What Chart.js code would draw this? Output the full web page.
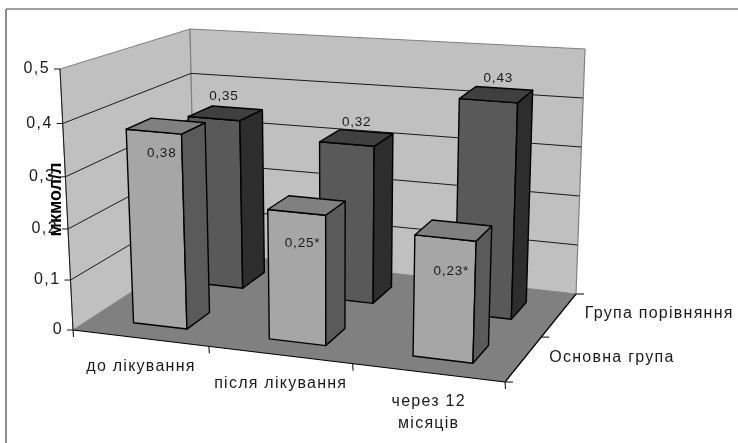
<!DOCTYPE html>
<html>
<head>
<meta charset="utf-8">
<style>
  html, body { margin: 0; padding: 0; background: #fff; }
  #wrap { width: 738px; height: 443px; position: relative; overflow: hidden; }
</style>
<script src="https://cdn.jsdelivr.net/npm/chart.js@4/dist/chart.umd.min.js"></script>
</head>
<body>
<div id="wrap"><canvas id="grafica" width="738" height="443"></canvas></div>
<script>
/* ── Datos ── */
const categorias = [["до лікування"], ["після лікування"], ["через 12", "місяців"]];
const series     = ["Основна група", "Група порівняння"];
const osnovna    = [0.38, 0.25, 0.23];
const porivnyannya = [0.35, 0.32, 0.43];
const etiquetasOsnovna = ["0,38", "0,25*", "0,23*"];
const etiquetasPorivn  = ["0,35", "0,32", "0,43"];
const ticksY = ["0", "0,1", "0,2", "0,3", "0,4", "0,5"];
const tituloY = "мкмол/л";

/* ── Caja 3D: esquinas de la proyección [u, profundidad, altura] ── */
const C = {
  "000": [73, 330],  "100": [505, 382], "010": [195, 251], "110": [576, 294],
  "001": [60, 69],   "101": [514, 112], "011": [190, 29],  "111": [585, 49],
};
const fuente = '"Liberation Sans", Arial, sans-serif';
const anchoBarra = 0.40;   // fracción de la categoría
const fondoBarra = 0.40;   // fracción de la serie en profundidad
const corrimiento = 0.006; // las barras no caen justo en el centro de la categoría
const desvioFrente = [[8, 22], [6, 31], [6, 33]];  // etiquetas serie delantera

// perspectiva suave a lo largo de cada eje
function warpU(u) { return u / (u + 1.09 * (1 - u)); }
function warpD(d) { return d / (d + 0.96 * (1 - d)); }
function warpT(t, u, d) {
  const w = 1 + 0.056 * Math.pow((1 - u) * (1 - d), 3);
  return t / (t + w * (1 - t));
}

function proy(u, dd, t) {
  const uu = warpU(u), d = warpD(dd), tt = warpT(t, uu, d);
  const p = [0, 1].map(i =>
    C["000"][i] * (1-uu)*(1-d)*(1-tt) + C["100"][i] * uu*(1-d)*(1-tt) +
    C["010"][i] * (1-uu)*d*(1-tt)     + C["110"][i] * uu*d*(1-tt) +
    C["001"][i] * (1-uu)*(1-d)*tt     + C["101"][i] * uu*(1-d)*tt +
    C["011"][i] * (1-uu)*d*tt         + C["111"][i] * uu*d*tt);
  return p;
}

function poly(ctx, pts, fill, stroke, lw) {
  ctx.beginPath();
  pts.forEach((p, i) => i ? ctx.lineTo(p[0], p[1]) : ctx.moveTo(p[0], p[1]));
  ctx.closePath();
  if (fill) { ctx.fillStyle = fill; ctx.fill(); }
  if (stroke) { ctx.strokeStyle = stroke; ctx.lineWidth = lw; ctx.lineJoin = "round"; ctx.stroke(); }
}

function linea(ctx, a, b, color, lw) {
  ctx.beginPath();
  ctx.moveTo(a[0], a[1]);
  ctx.lineTo(b[0], b[1]);
  ctx.strokeStyle = color;
  ctx.lineWidth = lw;
  ctx.stroke();
}

function texto(ctx, s, x, y, size, align, esp) {
  ctx.font = size + "px " + fuente;
  ctx.textAlign = align;
  ctx.textBaseline = "middle";
  ctx.letterSpacing = esp + "px";
  ctx.fillStyle = "#1a1a1a";
  ctx.fillText(s, x, y);
  ctx.letterSpacing = "0px";
}

/* ── Plugin: paredes, suelo y barras 3D a partir de las escalas ── */
const caja3d = {
  id: "caja3d",
  beforeDraw(chart) {
    const ctx = chart.ctx;
    linea(ctx, [6, 9], [738, 9], "#444", 1.2);
    linea(ctx, [6, 9], [6, 443], "#444", 1.2);
  },
  beforeDatasetsDraw(chart) {
    const ctx = chart.ctx, y = chart.scales.y;
    const a = chart.chartArea;
    const tDe = v => (a.bottom - y.getPixelForValue(v)) / (a.bottom - a.top);

    // paredes
    poly(ctx, [proy(0,0,0), proy(0,1,0), proy(0,1,1), proy(0,0,1)], "#c0c0c0", "#808080", 1);
    poly(ctx, [proy(0,1,0), proy(1,1,0), proy(1,1,1), proy(0,1,1)], "#c0c0c0", "#808080", 1.2);

    // rejilla
    y.ticks.forEach(tk => {
      if (tk.value === 0 || tk.value === y.max) return;
      const t = tDe(tk.value);
      linea(ctx, proy(0,0,t), proy(0,1,t), "#1a1a1a", 1);
      linea(ctx, proy(0,1,t), proy(1,1,t), "#1a1a1a", 1);
    });

    // suelo
    poly(ctx, [proy(0,0,0), proy(1,0,0), proy(1,1,0), proy(0,1,0)], "#808080");

    // ejes
    linea(ctx, proy(0,0,0), proy(0,0,1), "#1a1a1a", 1);
    linea(ctx, proy(0,0,0), proy(1,0,0), "#000", 1.2);
    linea(ctx, proy(1,0,0), proy(1,1,0), "#000", 1.2);

    // marcas y etiquetas del eje Y
    y.ticks.forEach((tk, i) => {
      const p = proy(0,0,tDe(tk.value));
      linea(ctx, [p[0]-6, p[1]], p, "#1a1a1a", 1);
      texto(ctx, ticksY[i], p[0]-10, p[1], 16, "right", 1.4);
    });

    // marcas del eje de categorías
    const x = chart.scales.x;
    const n = categorias.length;
    for (let i = 0; i <= n; i++) {
      const p = proy(i / n, 0, 0);
      linea(ctx, p, [p[0]+0.5, p[1]+7], "#000", 1);
    }
    categorias.forEach((lineas, i) => {
      const u = (x.getPixelForValue(i) - a.left) / (a.right - a.left);
      const p = proy(u, 0, 0);
      lineas.forEach((s, k) => texto(ctx, s, p[0]+1, p[1]+29+k*22, 16, "center", 1.25));
    });

    // eje de profundidad
    const z = chart.scales.z;
    [0, 0.5, 1].forEach(d => {
      const p = proy(1, d, 0);
      linea(ctx, p, [p[0]+8, p[1]], "#000", 1);
    });
    series.forEach((s, i) => {
      const d = (z.getPixelForValue(i) - z.left) / z.width;
      const p = proy(1, d, 0);
      texto(ctx, s, p[0]+26, p[1]-2, 16, "left", 1.25);
    });
  },
  afterDatasetsDraw(chart) {
    const ctx = chart.ctx, x = chart.scales.x, y = chart.scales.y, z = chart.scales.z;
    const a = chart.chartArea;
    const tDe = v => (a.bottom - y.getPixelForValue(v)) / (a.bottom - a.top);
    const anchoCat = 1 / categorias.length, anchoSer = 1 / series.length;
    const centroU = i => (x.getPixelForValue(i) - a.left) / (a.right - a.left) + corrimiento;
    const estilos = [
      { frente: "#a6a6a6", lado: "#5a5a5a", arriba: "#808080" },
      { frente: "#595959", lado: "#2d2d2d", arriba: "#404040" },
    ];

    // primero la serie del fondo
    [1, 0].forEach(ds => {
      const meta = chart.getDatasetMeta(ds), est = estilos[ds];
      const dc = (z.getPixelForValue(ds) - z.left) / z.width;
      const d0 = dc - fondoBarra * anchoSer / 2, d1 = dc + fondoBarra * anchoSer / 2;
      meta.data.forEach((el, i) => {
        const uc = centroU(i);
        const u0 = uc - anchoBarra * anchoCat / 2, u1 = uc + anchoBarra * anchoCat / 2;
        const t = tDe(chart.data.datasets[ds].data[i]);
        poly(ctx, [proy(u0,d0,0), proy(u1,d0,0), proy(u1,d0,t), proy(u0,d0,t)], est.frente, "#000", 1.4);
        poly(ctx, [proy(u1,d0,0), proy(u1,d1,0), proy(u1,d1,t), proy(u1,d0,t)], est.lado, "#000", 1.4);
        poly(ctx, [proy(u0,d0,t), proy(u1,d0,t), proy(u1,d1,t), proy(u0,d1,t)], est.arriba, "#000", 1.4);
      });
    });

    // etiquetas de valor
    [1, 0].forEach(ds => {
      const dc = (z.getPixelForValue(ds) - z.left) / z.width;
      const d0 = dc - fondoBarra * anchoSer / 2;
      const textos = ds ? etiquetasPorivn : etiquetasOsnovna;
      textos.forEach((s, i) => {
        const p = proy(centroU(i), d0, tDe(chart.data.datasets[ds].data[i]));
        const o = ds ? [10, -22] : desvioFrente[i];
        texto(ctx, s, p[0]+o[0], p[1]+o[1], 13.5, "center", 0.8);
      });
    });
  },
};

/* ── Gráfica ── */
new Chart(document.getElementById("grafica").getContext("2d"), {
  type: "bar",
  data: {
    labels: categorias.map(c => c.join(" ")),
    datasets: [
      { label: series[0], data: osnovna, backgroundColor: "rgba(0,0,0,0)" },
      { label: series[1], data: porivnyannya, backgroundColor: "rgba(0,0,0,0)" },
    ],
  },
  plugins: [caja3d],
  options: {
    animation: false,
    responsive: false,
    layout: { padding: { top: 69, bottom: 113, right: 233, left: 0 } },
    plugins: { legend: { display: false }, tooltip: { enabled: false } },
    scales: {
      x: { display: false, offset: true },
      z: { type: "category", axis: "x", labels: series, display: false, offset: true },
      y: {
        min: 0, max: 0.5,
        afterFit: s => { s.width = 73; },
        ticks: { display: false, stepSize: 0.1 },
        grid: { display: false },
        border: { display: false },
        title: {
          display: true,
          text: tituloY,
          color: "#000",
          padding: { top: 45, bottom: 0 },
          font: { family: fuente, size: 18, weight: "bold" },
        },
      },
    },
  },
});
</script>
</body>
</html>
